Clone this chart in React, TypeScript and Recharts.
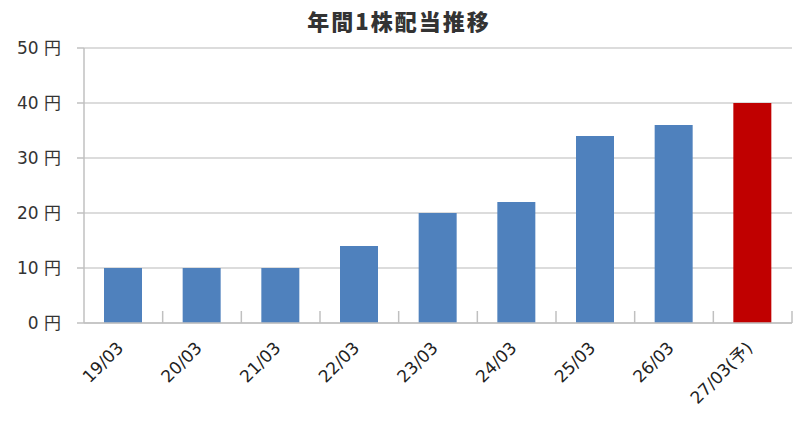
import React from 'react';
import { BarChart, Bar, XAxis, YAxis, CartesianGrid, Cell } from 'recharts';

const categories = ['19/03', '20/03', '21/03', '22/03', '23/03', '24/03', '25/03', '26/03', '27/03(予)'];
const dividends = [10, 10, 10, 14, 20, 22, 34, 36, 40];
const yTicks = [0, 10, 20, 30, 40, 50];
const title = '年間1株配当推移';

const data = categories.map((c, i) => ({ name: c, value: dividends[i] }));

const FONT = '"DejaVu Sans", "Noto Sans CJK JP", sans-serif';
const TICK_SIZE = 6;
const TICK_MARGIN = 2;

const XTick = (props: any) => {
  const { x, y, payload } = props;
  const axisY = y - TICK_SIZE - TICK_MARGIN;
  const half = typeof payload?.offset === 'number' && payload.offset > 0 ? payload.offset : 39.3;
  const ax = x + 1;
  const ay = axisY + 26;
  return (
    <g>
      <line x1={x + half} x2={x + half} y1={axisY} y2={axisY - 12} stroke="#c0c0c0" strokeWidth={1.5} />
      <text
        x={ax}
        y={ay}
        textAnchor="end"
        transform={`rotate(-45, ${ax}, ${ay})`}
        fontSize={17}
        fontFamily={FONT}
        fill="#222"
      >
        {payload.value}
      </text>
    </g>
  );
};

export default function App() {
  return (
    <div style={{ position: 'absolute', left: 0, top: 0, width: 798, height: 426, background: '#fff' }}>
      <div
        style={{
          position: 'absolute',
          left: 0,
          top: 5,
          width: 798,
          textAlign: 'center',
          fontFamily: '"Noto Sans CJK JP", sans-serif',
          fontWeight: 900,
          fontSize: 22,
          letterSpacing: 2,
          color: '#333',
          lineHeight: '30px',
        }}
      >
        {title}
      </div>
      <BarChart width={798} height={426} data={data} margin={{ top: 48, right: 6, left: 0, bottom: 0 }}>
        <CartesianGrid vertical={false} stroke="#d0d0d0" strokeWidth={1.5} />
        <XAxis
          dataKey="name"
          height={103}
          axisLine={{ stroke: '#c0c0c0', strokeWidth: 1.5 }}
          tickLine={false}
          tickSize={TICK_SIZE}
          tickMargin={TICK_MARGIN}
          tick={<XTick />}
          interval={0}
        />
        <YAxis
          width={84}
          domain={[0, 50]}
          ticks={yTicks}
          interval={0}
          tickFormatter={(v: number) => `${v} 円`}
          axisLine={{ stroke: '#c0c0c0', strokeWidth: 1.5 }}
          tickLine={{ stroke: '#c0c0c0', strokeWidth: 1.5 }}
          tickSize={7}
          tickMargin={16}
          tick={{ fontSize: 17, fontFamily: FONT, fill: '#333' }}
        />
        <Bar dataKey="value" barSize={38} isAnimationActive={false}>
          {data.map((d, i) => (
            <Cell key={i} fill={d.name.includes('予') ? '#C00000' : '#4F81BD'} />
          ))}
        </Bar>
      </BarChart>
    </div>
  );
}
